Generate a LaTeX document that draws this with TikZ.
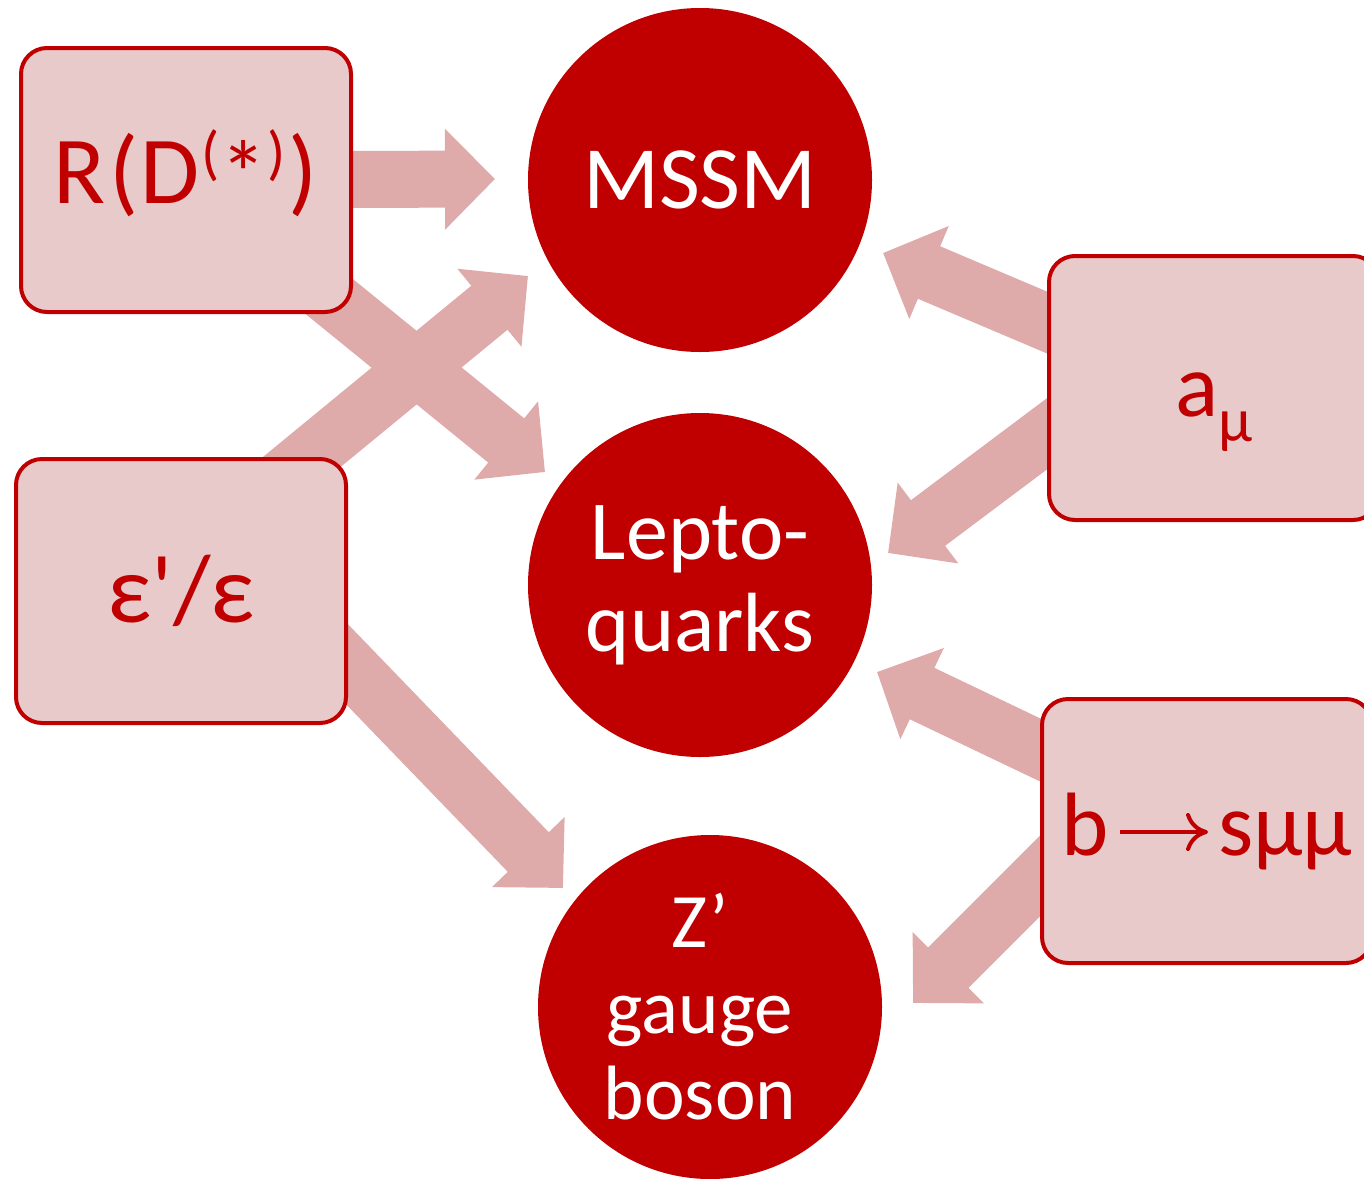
\documentclass[tikz,border=0pt]{standalone}
\usepackage{fontspec}
\setmainfont{Carlito}
\newfontfamily\rawcarlito{Carlito}
\usetikzlibrary{arrows.meta,backgrounds}
\definecolor{dred}{HTML}{C00000}
\definecolor{boxfill}{HTML}{E8CACB}
\definecolor{arrowc}{HTML}{DFAAAA}
\newcommand{\thinarrow}{\kern9pt\tikz[baseline=0pt]{\draw[dred,line width=4pt,-{To[length=22pt,width=38pt]}] (0pt,23pt) -- (88pt,23pt);}\kern8pt}
\begin{document}
\begin{tikzpicture}[x=1pt,y=1pt,
  obs/.style={draw=dred, line width=4pt, fill=boxfill, rounded corners=26pt,
    minimum width=330pt, minimum height=264pt, text=dred, inner sep=0pt,
    font=\fontsize{90}{100}\selectfont},
  model/.style={circle, fill=dred, minimum size=344pt, inner sep=0pt,
    text=white, align=center},
  bigarrow/.style={draw=arrowc, line width=57pt,
    -{Triangle[length=50pt,width=98pt]}}]
\useasboundingbox (0,0) rectangle (1364,-1178);
\clip (0,0) rectangle (1364,-1178);

% observables (boxes)
\node[obs, font=\fontsize{96}{100}\selectfont] (rd) at (186,-180)
  {\raisebox{7pt}[\height][\depth]{R\kern3pt(\kern2pt D\kern2pt\raisebox{30pt}{\fontsize{60}{60}\selectfont(\kern1pt\raisebox{-33pt}{\scalebox{1.55}{*}}\kern1pt)}\kern3pt)}};
\node[obs, font=\fontsize{97}{100}\selectfont] (eps) at (181,-591) {\rawcarlito ε'/ε};
\node[obs] (amu) at (1214,-388) {\raisebox{-24pt}[\height][\depth]{a\raisebox{-25pt}{\fontsize{62}{62}\selectfont μ}}};
\node[obs] (bs) at (1207,-831) {b\thinarrow sμμ};

% models (circles)
\node[model, font=\fontsize{89}{92}\selectfont] (mssm) at (700,-180) {MSSM};
\node[model, font=\fontsize{84}{92}\selectfont] (lq) at (700,-585) {Lepto-\\quarks};
\node[model, font=\fontsize{77}{86}\selectfont] (zp) at (710,-1007)
  {\kern-20pt\raisebox{-9pt}[\height][\depth]{\begin{tabular}{@{}c@{}}Z’\\gauge\\boson\end{tabular}}};

% block arrows
\begin{scope}[on background layer]
  \draw[bigarrow] (rd.center) -- ([shift={(-205pt,1pt)}]mssm.center);
  \draw[bigarrow] (rd.center) -- ([shift={(-155pt,113pt)}]lq.center);
  \draw[bigarrow] ([shift={(38pt,61pt)}]eps.center) -- ([shift={(-172pt,-96pt)}]mssm.center);
  \draw[bigarrow] ([shift={(104pt,-9pt)}]eps.center) -- ([shift={(-147pt,119pt)}]zp.center);
  \draw[bigarrow] ([shift={(-55pt,18pt)}]amu.center) -- ([shift={(183pt,-73pt)}]mssm.center);
  \draw[bigarrow] ([shift={(-86pt,15pt)}]amu.center) -- ([shift={(188pt,32pt)}]lq.center);
  \draw[bigarrow] ([shift={(-60pt,30pt)}]bs.center) -- ([shift={(177pt,-87pt)}]lq.center);
  \draw[bigarrow] ([shift={(-82pt,40pt)}]bs.center) -- ([shift={(203pt,4pt)}]zp.center);
\end{scope}
\end{tikzpicture}
\end{document}
